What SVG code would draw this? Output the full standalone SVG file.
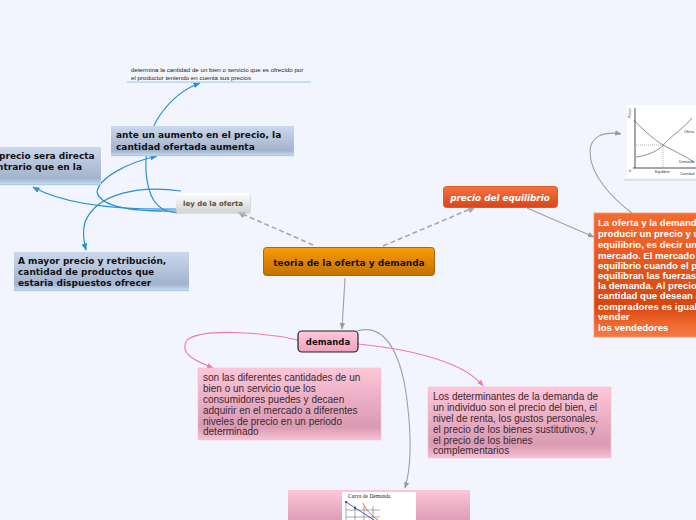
<svg xmlns="http://www.w3.org/2000/svg" width="696" height="520" viewBox="0 0 696 520">
<defs>
<linearGradient id="gOr" x1="0" y1="0" x2="0" y2="1"><stop offset="0" stop-color="#fb9c05"/><stop offset="1" stop-color="#c27000"/></linearGradient>
<linearGradient id="gRed" x1="0" y1="0" x2="0" y2="1"><stop offset="0" stop-color="#f5733f"/><stop offset="1" stop-color="#d9451a"/></linearGradient>
<linearGradient id="gBig" x1="0" y1="0" x2="0" y2="1"><stop offset="0" stop-color="#f46c32"/><stop offset="0.75" stop-color="#d8460f"/><stop offset="0.9" stop-color="#ef6a30"/><stop offset="1" stop-color="#f47a44"/></linearGradient>
<linearGradient id="gGray" x1="0" y1="0" x2="0" y2="1"><stop offset="0" stop-color="#ffffff"/><stop offset="1" stop-color="#d4d4d4"/></linearGradient>
<linearGradient id="gBlue" x1="0" y1="0" x2="0" y2="1"><stop offset="0" stop-color="#cad8ed"/><stop offset="0.85" stop-color="#a3b3cc"/><stop offset="1" stop-color="#c6d6ec"/></linearGradient>
<linearGradient id="gPink" x1="0" y1="0" x2="0" y2="1"><stop offset="0" stop-color="#fec6d9"/><stop offset="0.82" stop-color="#d99ab2"/><stop offset="1" stop-color="#f8c2d4"/></linearGradient>
<linearGradient id="gDem" x1="0" y1="0" x2="0" y2="1"><stop offset="0" stop-color="#ffc8da"/><stop offset="1" stop-color="#f0a2bd"/></linearGradient>
<marker id="aBlue" viewBox="0 0 10 10" refX="9" refY="5" markerWidth="6" markerHeight="6" orient="auto"><path d="M0,1 L10,5 L0,9 z" fill="#2b8fd2"/></marker>
<marker id="aGray" viewBox="0 0 10 10" refX="9" refY="5" markerWidth="6" markerHeight="6" orient="auto"><path d="M0,1 L10,5 L0,9 z" fill="#9a9a9a"/></marker>
<marker id="aGrayD" viewBox="0 0 10 10" refX="9" refY="5" markerWidth="5" markerHeight="5" orient="auto"><path d="M0,0 L10,5 L0,10 z" fill="#a8a8a8"/></marker>
<marker id="aPink" viewBox="0 0 10 10" refX="9" refY="5" markerWidth="6" markerHeight="6" orient="auto"><path d="M0,1 L10,5 L0,9 z" fill="#f07ab0"/></marker>
</defs>
<style>
.blue{fill:none;stroke:#2b8fd2;stroke-width:1.2;marker-end:url(#aBlue)}
.gray{fill:none;stroke:#a0a0a0;stroke-width:1.1;marker-end:url(#aGray)}
.dash{fill:none;stroke:#a8a8a8;stroke-width:1.6;stroke-dasharray:5,3;marker-end:url(#aGrayD)}
.pink{fill:none;stroke:#f07ab0;stroke-width:1.1;marker-end:url(#aPink)}
.vb{font-family:"DejaVu Sans",Verdana,sans-serif;font-weight:bold;fill:#111}
.ar{font-family:"Liberation Sans",Arial,sans-serif}
.pk{font-family:"Liberation Sans",Arial,sans-serif;font-size:10px;fill:#3a2a30}
.wt{font-family:"Liberation Sans",Arial,sans-serif;font-weight:bold;font-size:9.6px;fill:#fff}
.tiny{font-family:"Liberation Sans",Arial,sans-serif;font-size:3.6px;fill:#333}
</style>
<rect width="696" height="520" fill="#f2f5fe"/>

<g id="connectors">
<path class="dash" d="M313,245 L238,212"/>
<path class="dash" d="M383,246 L475,207"/>
<path class="gray" d="M345,278 L342,329"/>
<path class="gray" d="M527,208 L594,237"/>
<path class="gray" d="M632,213 C612,198 590,175 590,152 C590,136 604,131 621,134"/>
<path class="gray" d="M357,331 C388,322 402,360 407,400 C412,440 411,468 405,488"/>
<path class="pink" d="M298,340 C262,332 202,328 187,340 C178,354 198,362 213,368"/>
<path class="pink" d="M358,344 C418,350 466,364 483,386"/>
<path class="blue" d="M177,211 C125,212 100,205 97,192 C99,177 130,162 157,156"/>
<path class="blue" d="M177,209 C120,210 65,205 33,187"/>
<path class="blue" d="M181,191 C140,185 97,193 85,222 C82,233 84,243 86,250"/>
<path class="blue" d="M177,213 C155,212 148,195 146,172 C145,150 150,130 160,115 C172,98 186,88 200,83"/>
</g>

<g id="n-central">
<rect x="263.5" y="247.5" width="171" height="28" rx="3" fill="url(#gOr)" stroke="#b06700"/>
<text class="vb" x="349" y="266" font-size="9" text-anchor="middle">teoria de la oferta y demanda</text>
</g>

<g id="n-ley">
<rect x="176" y="194" width="75" height="20" rx="3" fill="#c8c8c8" opacity="0.6"/>
<rect x="176" y="193" width="74" height="19" rx="3" fill="url(#gGray)"/>
<text class="vb" x="213" y="205.5" font-size="7" text-anchor="middle" style="fill:#5c5040">ley de la oferta</text>
</g>

<g id="n-ante">
<rect x="111" y="126" width="183" height="29" fill="url(#gBlue)"/>
<rect x="111" y="155" width="183" height="1.2" fill="#a9cdf0"/>
<text class="vb" font-size="9"><tspan x="116" y="138">ante un aumento en el precio, la</tspan><tspan x="116" y="150">cantidad ofertada aumenta</tspan></text>
</g>

<g id="n-determina">
<text class="ar" font-size="6.2" fill="#222"><tspan x="131" y="72">determina la cantidad de un bien o servicio que es ofrecido por</tspan><tspan x="131" y="80">el productor teniendo en cuenta sus precios</tspan></text>
<rect x="127" y="81.5" width="184" height="1.2" fill="#a9cdf0"/>
</g>

<g id="n-precio-sera">
<rect x="-5" y="147" width="106" height="37" fill="url(#gBlue)"/>
<rect x="-5" y="184" width="106" height="1.2" fill="#a9cdf0"/>
<text class="vb" font-size="9"><tspan x="-1" y="159">precio sera directa</tspan><tspan x="-3" y="170">ntrario que en la</tspan></text>
</g>

<g id="n-mayor">
<rect x="14" y="252" width="175" height="38" fill="url(#gBlue)"/>
<rect x="14" y="290" width="175" height="1.2" fill="#a9cdf0"/>
<text class="vb" font-size="9"><tspan x="18" y="263.5">A mayor precio y retribución,</tspan><tspan x="18" y="274.5">cantidad de productos que</tspan><tspan x="18" y="285.5">estaria dispuestos ofrecer</tspan></text>
</g>

<g id="n-equilibrio">
<rect x="443.5" y="186.5" width="114" height="21" rx="3" fill="url(#gRed)" stroke="#e45a2a"/>
<text class="vb" x="500" y="200.5" font-size="8.8" font-style="italic" text-anchor="middle" style="fill:#fff">precio del equilibrio</text>
</g>

<g id="n-oferta-demanda">
<rect x="594" y="213" width="110" height="124" fill="url(#gBig)" stroke="#f59a70" stroke-width="0.8"/>
<text class="wt"><tspan x="598" y="226">La oferta y la demanda</tspan><tspan x="598" y="237">producir un precio y un</tspan><tspan x="598" y="248">equilibrio, es decir un e</tspan><tspan x="598" y="258.5">mercado. El mercado s</tspan><tspan x="598" y="268.5">equilibrio cuando el pre</tspan><tspan x="598" y="278.5">equilibran las fuerzas d</tspan><tspan x="598" y="288.5">la demanda. Al precio e</tspan><tspan x="598" y="299">cantidad que desean ad</tspan><tspan x="598" y="310">compradores es igual a</tspan><tspan x="598" y="320">vender</tspan><tspan x="598" y="331">los vendedores</tspan></text>
</g>

<g id="n-grafica">
<rect x="624" y="179" width="80" height="2" fill="#dde2ec"/>
<rect x="627" y="105" width="75" height="73" fill="#ffffff"/>
<line x1="635" y1="108" x2="635" y2="168" stroke="#222" stroke-width="0.8"/>
<line x1="633" y1="168" x2="696" y2="168" stroke="#222" stroke-width="0.8"/>
<path d="M634,120 C645,132 655,140 663,145 C672,150 685,156 694,162" fill="none" stroke="#444" stroke-width="0.6"/>
<path d="M636,157 C650,155 660,150 666,142 C674,134 684,128 692,118" fill="none" stroke="#444" stroke-width="0.6"/>
<path d="M636,145 L663,145 L663,168" fill="none" stroke="#666" stroke-width="0.5" stroke-dasharray="1,1"/>
<text class="tiny" transform="translate(631,118) rotate(-90)">Precio</text>
<text class="tiny" x="684" y="133">Oferta</text>
<text class="tiny" x="679" y="163">Demanda</text>
<text class="tiny" x="655" y="173">Equilibrio</text>
<text class="tiny" x="680" y="175">Cantidad</text>
<text class="tiny" x="629" y="172">0</text>
</g>

<g id="n-demanda">
<rect x="298" y="331" width="60" height="21" rx="4" fill="url(#gDem)" stroke="#222" stroke-width="1.2"/>
<text class="vb" x="328" y="345" font-size="8.5" text-anchor="middle">demanda</text>
</g>

<g id="n-son">
<rect x="198" y="368" width="183" height="72" fill="url(#gPink)" stroke="#f6bfd2" stroke-width="0.6"/>
<text class="pk"><tspan x="203" y="381">son las diferentes cantidades de un</tspan><tspan x="203" y="391.5">bien o un servicio que los</tspan><tspan x="203" y="402.5">consumidores puedes y decaen</tspan><tspan x="203" y="413.5">adquirir en el mercado a diferentes</tspan><tspan x="203" y="424.5">niveles de precio en un periodo</tspan><tspan x="203" y="435">determinado</tspan></text>
</g>

<g id="n-determinantes">
<rect x="428" y="387" width="183" height="71" fill="url(#gPink)" stroke="#f6bfd2" stroke-width="0.6"/>
<text class="pk"><tspan x="433" y="399.5">Los determinantes de la demanda de</tspan><tspan x="433" y="410.5">un individuo son el precio del bien, el</tspan><tspan x="433" y="421.5">nivel de renta, los gustos personales,</tspan><tspan x="433" y="432.5">el precio de los bienes sustitutivos, y</tspan><tspan x="433" y="443.5">el precio de los bienes</tspan><tspan x="433" y="454">complementarios</tspan></text>
</g>

<g id="n-curva">
<rect x="288" y="490" width="182" height="40" fill="url(#gPink)"/>
<rect x="342" y="492" width="74" height="30" fill="#ffffff"/>
<text x="348" y="498" font-family="'Liberation Serif',serif" font-size="5.5" fill="#222">Curva de Demanda</text>
<g stroke="#555" stroke-width="0.5">
<line x1="346" y1="502" x2="346" y2="520"/>
<line x1="355" y1="506" x2="355" y2="520"/>
<line x1="364" y1="506" x2="364" y2="520"/>
<line x1="373" y1="506" x2="373" y2="520"/>
<line x1="346" y1="510" x2="380" y2="510"/>
<line x1="346" y1="517" x2="380" y2="517"/>
</g>
<line x1="346" y1="502" x2="374" y2="520" stroke="#2030c0" stroke-width="0.8"/>
<circle cx="346" cy="502" r="0.9" fill="#222"/>
<circle cx="355" cy="508" r="0.9" fill="#222"/>
<path d="M363,503 C366,510 371,515 378,520" fill="none" stroke="#f04020" stroke-width="0.8"/>
</g>
</svg>
